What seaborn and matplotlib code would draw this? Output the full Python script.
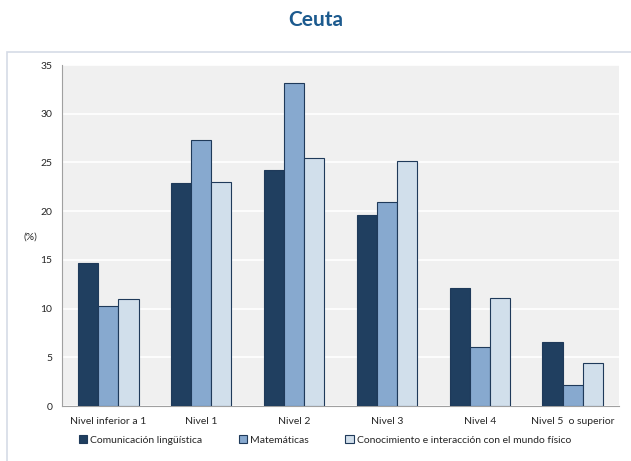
import matplotlib
matplotlib.use("Agg")
import matplotlib.pyplot as plt
from matplotlib.patches import Rectangle
import seaborn as sns
import pandas as pd

niveles = ["Nivel inferior a 1", "Nivel 1", "Nivel 2", "Nivel 3", "Nivel 4", "Nivel 5  o superior"]
series = ["Comunicación lingüística", "Matemáticas", "Conocimiento e interacción con el mundo físico"]
comunicacion = [14.7, 22.9, 24.2, 19.6, 12.1, 6.6]
matematicas = [10.3, 27.3, 33.2, 20.9, 6.1, 2.2]
conocimiento = [11.0, 23.0, 25.5, 25.1, 11.1, 4.4]
colores = ["#203f60", "#87a9cf", "#d1dfeb"]

rows = []
for name, vals in zip(series, [comunicacion, matematicas, conocimiento]):
    for nivel, v in zip(niveles, vals):
        rows.append({"nivel": nivel, "serie": name, "valor": v})
df = pd.DataFrame(rows)

sns.set_style("white")
plt.rcParams["font.family"] = ["Lato", "DejaVu Sans"]

fig = plt.figure(figsize=(6.31, 4.61), dpi=100)
# light frame around the chart (right and bottom run off the picture)
fig.patches.append(Rectangle((7 / 631, -0.05), 1.1, 1.05 - 52 / 461, transform=fig.transFigure,
                             fill=False, edgecolor="#d5dbe6", linewidth=1.2))
fig.text(0.5, 1 - 20 / 461, "Ceuta", ha="center", va="center", fontsize=15,
         fontweight="bold", color="#1c5a8e")

ax = fig.add_axes([62 / 631, 1 - 406 / 461, 557 / 631, 341 / 461])
ax.set_facecolor("#f0f0f0")
sns.barplot(data=df, x="nivel", y="valor", hue="serie", palette=colores, width=0.65,
            saturation=1, edgecolor="#1f3a5a", linewidth=0.8, ax=ax, legend=True, zorder=3)

ax.set_ylim(0, 35)
ax.set_yticks(range(0, 36, 5))
ax.set_xlim(-0.5, 5.5)
ax.yaxis.grid(True, color="white", linewidth=1.2, zorder=0)
ax.set_axisbelow(True)
ax.set_xlabel("")
ax.set_ylabel("")
for s in ["top", "right"]:
    ax.spines[s].set_visible(False)
for s in ["left", "bottom"]:
    ax.spines[s].set_color("#a0a0a0")
    ax.spines[s].set_linewidth(0.8)
ax.tick_params(axis="y", labelsize=7.5, length=4, color="#a0a0a0", pad=3)
ax.set_xticks(range(6))
ax.set_xticklabels(niveles)
ax.tick_params(axis="x", labelsize=7.5, length=0, pad=8)
ax.set_xticks([i + 0.5 for i in range(-1, 6)], minor=True)
ax.tick_params(axis="x", which="minor", length=4, color="#a0a0a0")

fig.text(30 / 631, 1 - 237 / 461, "(%)", ha="center", va="center", fontsize=7.5)

handles, labels = ax.get_legend_handles_labels()
ax.legend(handles, labels, loc="center", bbox_to_anchor=(325 / 631, 1 - 440 / 461),
          bbox_transform=fig.transFigure, ncol=3, frameon=False, fontsize=7.5,
          handlelength=0.8, handleheight=0.8, handletextpad=0.3, columnspacing=3.5)

fig.savefig("out.png", dpi=100)
